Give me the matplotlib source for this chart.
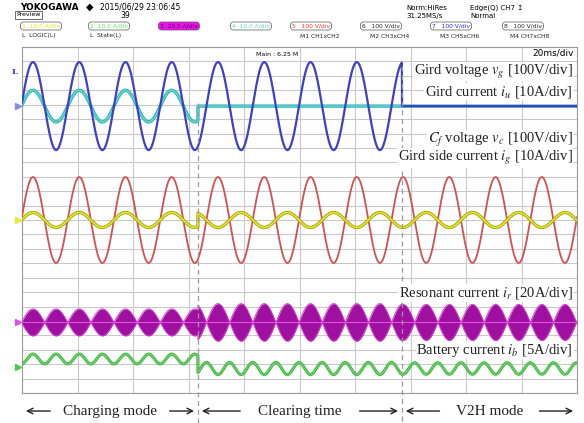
import matplotlib.pyplot as plt
import numpy as np

plt.rcParams['mathtext.fontset'] = 'stix'

# --- time base (ms), 20 ms/div, 10 div ---
t_span = [0, 200]
mode_bounds = [0, 63.4, 136.9, 200]       # charging | clearing | V2H
mode_names = ['Charging mode', 'Clearing time', 'V2H mode']
line_period = 16.67                        # 60 Hz grid
t_first_peak = 3.96

# --- channel zero levels on screen (div from bottom) ---
zero_vg = 19.9
zero_vc = 12.0
zero_ir = 4.9
zero_ib = 1.8

# --- volts/amps per division ---
vg_scale = 100
iu_scale = 10
vc_scale = 100
ig_scale = 10
ir_scale = 20
ib_scale = 5

# --- per-mode amplitudes ---
vg_peak = [305, 305, 0]        # V
iu_peak = [11, 0, 0]           # A
vc_peak = [298, 298, 298]      # V
ig_peak = [5.2, -5.2, -5.2]    # A (sign = phase vs voltage)
ir_peak = [18.7, 26, 25]       # A envelope
ib_mean = [2.8, -0.5, -0.5]    # A
ib_ripple = [1.7, -2.1, -2.0]  # A, 120 Hz

# figure
fig = plt.figure(figsize=(5.84, 4.23), dpi=100)
ax = fig.add_axes([22 / 584, 30 / 423, 555 / 584, 346 / 423])
ax.set_xlim(t_span)
ax.set_ylim(0, 24)
ax.set_xticks(np.arange(0, 201, 20))
ax.set_yticks(np.arange(0, 25, 1))
ax.tick_params(length=0, labelbottom=False, labelleft=False)
ax.grid(True, color='#c9c9c9', lw=0.8)
for s in ax.spines.values():
    s.set_color('#9a9a9a')

t = np.linspace(t_span[0], t_span[1], 6000)
mode = np.clip(np.searchsorted(mode_bounds, t, side='right') - 1, 0, 2)
ph = np.cos(2 * np.pi * (t - t_first_peak) / line_period)
ph2 = np.cos(4 * np.pi * (t - t_first_peak) / line_period)

vg = np.take(vg_peak, mode) * ph / vg_scale + zero_vg
iu = np.take(iu_peak, mode) * ph / iu_scale + zero_vg
vc = np.take(vc_peak, mode) * ph / vc_scale + zero_vc
ig = np.take(ig_peak, mode) * ph / ig_scale + zero_vc
env = np.take(ir_peak, mode) * np.abs(ph) / ir_scale
ib = (np.take(ib_mean, mode) + np.take(ib_ripple, mode) * ph2) / ib_scale + zero_ib

ax.plot(t, iu, color='#2fb4b4', lw=2.4, zorder=3)
ax.plot(t, iu, color='#6ad8d8', lw=0.9, zorder=3)
ax.plot(t, vg, color='#4040c4', lw=1.6, zorder=4)
ax.plot(t, vc, color='#d25050', lw=1.3, zorder=3)
ax.plot(t, ig, color='#a6a60e', lw=2.4, zorder=4)
ax.plot(t, ig, color='#e6e630', lw=1.1, zorder=4)
ax.fill_between(t, zero_ir - env, zero_ir + env, color='#a010a0', lw=0, zorder=3)
ax.plot(t, zero_ir + env, color='#d040d0', lw=0.7, zorder=3)
ax.plot(t, zero_ir - env, color='#d040d0', lw=0.7, zorder=3)
ax.plot(t_span, [zero_ir, zero_ir], color='#e050e0', lw=0.8, zorder=3)
ax.plot(t, ib, color='#3cb43c', lw=2.2, zorder=3)
ax.plot(t, ib, color='#72d872', lw=0.8, zorder=3)

# mode boundaries
ax.plot([mode_bounds[1]] * 2, [20.1, -2.1], ls=(0, (4, 3)), color='#9a9a9a',
        lw=0.9, clip_on=False, zorder=5)
ax.plot([mode_bounds[2]] * 2, [22.7, -2.1], ls=(0, (4, 3)), color='#9a9a9a',
        lw=0.9, clip_on=False, zorder=5)

# channel zero markers at the left edge
for y, c in [(zero_vg, '#8a8ae6'), (zero_vc, '#e6e640'),
             (zero_ir, '#e050e0'), (zero_ib, '#50c850')]:
    ax.plot([-1.6], [y], marker='>', ms=4, color=c, clip_on=False)
ax.text(-2.6, 22.25, 'L', color='#3b3bc4', fontsize=6, fontweight='bold',
        family='DejaVu Serif', ha='center', va='center', clip_on=False)

# trace labels
serif = 'Liberation Serif'
bb = dict(fc='white', ec='none', pad=0.5)
labels = [
    (22.3, r'Gird voltage $v_g$ [100V/div]'),
    (20.9, r'Gird current $i_u$ [10A/div]'),
    (17.55, r'$C_f$ voltage $v_c$ [100V/div]'),
    (16.3, r'Gird side current $i_g$ [10A/div]'),
    (6.93, r'Resonant current $i_r$ [20A/div]'),
    (2.98, r'Battery current $i_b$ [5A/div]'),
]
for y, s in labels:
    ax.text(198.5, y, s, family=serif, fontsize=10.5, ha='right', va='center',
            color='#222222', bbox=bb, zorder=6)

ax.text(199, 23.55, '20ms/div', fontsize=6.5, ha='right', va='center', zorder=6)
ax.text(92, 23.45, 'Main : 6.25 M', fontsize=4.5, ha='center', va='center', zorder=6)

# mode annotations under the screen
ytxt = -1.25
for i, name in enumerate(mode_names):
    a, b = mode_bounds[i], mode_bounds[i + 1]
    mid = (a + b) / 2
    ax.text(mid, ytxt, name, family=serif, fontsize=11, ha='center', va='center',
            color='#222222', clip_on=False)
    half = 17.5 if i != 2 else 14
    ax.annotate('', xy=(a + 0.4, ytxt), xytext=(mid - half - 3, ytxt),
                arrowprops=dict(arrowstyle='->', color='#222222', lw=1.0),
                annotation_clip=False)
    ax.annotate('', xy=(b - 0.4, ytxt), xytext=(mid + half + 3, ytxt),
                arrowprops=dict(arrowstyle='->', color='#222222', lw=1.0),
                annotation_clip=False)

# scope header
def fy(px):
    return 1 - px / 423

fig.text(20 / 584, fy(7), 'YOKOGAWA', fontsize=6.5, fontweight='bold', va='center')
fig.text(86 / 584, fy(7), '\u25c6', fontsize=7, va='center')
fig.text(100 / 584, fy(7), '2015/06/29 23:06:45', fontsize=5.5, va='center')
fig.text(125 / 584, fy(16), '39', fontsize=5.5, va='center', ha='center')
fig.text(16 / 584, fy(15), 'Preview', fontsize=4.5, va='center',
         bbox=dict(fc='white', ec='#555555', lw=0.6, pad=0.8))
fig.text(406 / 584, fy(8), 'Norm:HiRes', fontsize=5, va='center')
fig.text(406 / 584, fy(16), '31.25MS/s', fontsize=5, va='center')
fig.text(470 / 584, fy(8), 'Edge(Q) CH7 \u21a5', fontsize=5, va='center',
         family=['DejaVu Sans'])
fig.text(470 / 584, fy(16), 'Normal', fontsize=5, va='center')

ch_row1 = ['1  10.0 A/div', '2  10.0 A/div', '3  20.0 A/div', '4  10.0 A/div',
           '5   100 V/div', '6   100 V/div', '7   100 V/div', '8   100 V/div']
ch_x1 = [22, 90, 160, 232, 292, 362, 432, 504]
ch_col = ['#e8e800', '#5ee85e', '#4a004a', '#5adada', '#ff3030', '#222222',
          '#2a2ae0', '#222222']
for s, x, c in zip(ch_row1, ch_x1, ch_col):
    fc = '#ee10ee' if s.startswith('3') else 'white'
    fig.text(x / 584, fy(26), s, fontsize=4.3, color=c, va='center',
             bbox=dict(boxstyle='round,pad=0.25,rounding_size=0.5', fc=fc,
                       ec='#555555', lw=0.5))
ch_row2 = ['L  LOGIC(L)', 'L  State(L)', 'M1 CH1xCH2', 'M2 CH3xCH4',
           'M3 CH5xCH6', 'M4 CH7xCH8']
ch_x2 = [22, 90, 300, 370, 440, 510]
for s, x in zip(ch_row2, ch_x2):
    fig.text(x / 584, fy(36), s, fontsize=4.3, color='#222222', va='center')

fig.savefig('out.png', dpi=100)
